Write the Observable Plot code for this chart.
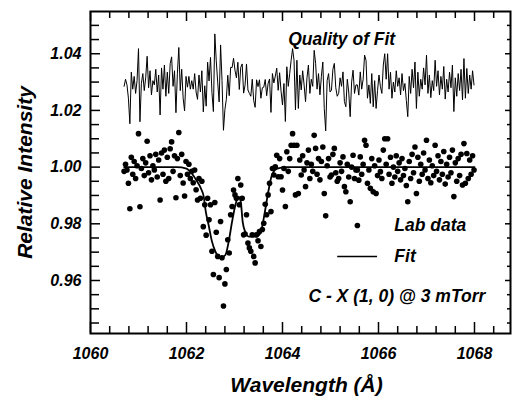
<!DOCTYPE html>
<html><head><meta charset="utf-8">
<script src="https://cdn.jsdelivr.net/npm/d3@7"></script>
<script src="https://cdn.jsdelivr.net/npm/@observablehq/plot@0.6"></script>
<style>body{margin:0;background:#fff}</style>
</head><body><div id="chart"></div>
<script>
const wavelength = [
1060.70,1060.73,1060.76,1060.79,1060.82,1060.85,1060.88,1060.91,1060.94,1060.97,
1061.00,1061.03,1061.06,1061.09,1061.12,1061.15,1061.18,1061.21,1061.24,1061.27,
1061.30,1061.33,1061.36,1061.39,1061.42,1061.45,1061.48,1061.51,1061.54,1061.57,
1061.60,1061.63,1061.66,1061.69,1061.72,1061.75,1061.78,1061.81,1061.84,1061.87,
1061.90,1061.93,1061.96,1061.99,1062.02,1062.05,1062.08,1062.11,1062.14,1062.17,
1062.20,1062.23,1062.26,1062.29,1062.32,1062.35,1062.38,1062.41,1062.44,1062.47,
1062.50,1062.53,1062.56,1062.59,1062.62,1062.65,1062.68,1062.71,1062.74,1062.77,
1062.80,1062.83,1062.86,1062.89,1062.92,1062.95,1062.98,1063.01,1063.04,1063.07,
1063.10,1063.13,1063.16,1063.19,1063.22,1063.25,1063.28,1063.31,1063.34,1063.37,
1063.40,1063.43,1063.46,1063.49,1063.52,1063.55,1063.58,1063.61,1063.64,1063.67,
1063.70,1063.73,1063.76,1063.79,1063.82,1063.85,1063.88,1063.91,1063.94,1063.97,
1064.00,1064.03,1064.06,1064.09,1064.12,1064.15,1064.18,1064.21,1064.24,1064.27,
1064.30,1064.33,1064.36,1064.39,1064.42,1064.45,1064.48,1064.51,1064.54,1064.57,
1064.60,1064.63,1064.66,1064.69,1064.72,1064.75,1064.78,1064.81,1064.84,1064.87,
1064.90,1064.93,1064.96,1064.99,1065.02,1065.05,1065.08,1065.11,1065.14,1065.17,
1065.20,1065.23,1065.26,1065.29,1065.32,1065.35,1065.38,1065.41,1065.44,1065.47,
1065.50,1065.53,1065.56,1065.59,1065.62,1065.65,1065.68,1065.71,1065.74,1065.77,
1065.80,1065.83,1065.86,1065.89,1065.92,1065.95,1065.98,1066.01,1066.04,1066.07,
1066.10,1066.13,1066.16,1066.19,1066.22,1066.25,1066.28,1066.31,1066.34,1066.37,
1066.40,1066.43,1066.46,1066.49,1066.52,1066.55,1066.58,1066.61,1066.64,1066.67,
1066.70,1066.73,1066.76,1066.79,1066.82,1066.85,1066.88,1066.91,1066.94,1066.97,
1067.00,1067.03,1067.06,1067.09,1067.12,1067.15,1067.18,1067.21,1067.24,1067.27,
1067.30,1067.33,1067.36,1067.39,1067.42,1067.45,1067.48,1067.51,1067.54,1067.57,
1067.60,1067.63,1067.66,1067.69,1067.72,1067.75,1067.78,1067.81,1067.84,1067.87,
1067.90,1067.93,1067.96,1067.99];

const intensity = [
0.9985,1.0010,0.9990,0.9943,0.9853,1.0035,0.9975,1.0020,0.9960,1.0005,
1.0118,0.9860,0.9995,1.0030,0.9970,1.0015,1.0091,0.9980,1.0040,0.9955,
1.0005,0.9990,1.0045,0.9965,1.0025,0.9884,1.0050,0.9975,1.0060,0.9950,
1.0035,0.9960,1.0065,1.0089,0.9985,1.0040,0.9892,1.0030,1.0122,0.9970,
1.0045,0.9944,0.9898,1.0020,0.9975,1.0010,0.9960,0.9985,0.9945,0.9990,
0.9920,0.9884,0.9960,0.9890,0.9950,0.9790,0.9867,0.9760,0.9890,0.9814,
0.9867,0.9703,0.9621,0.9875,0.9770,0.9685,0.9610,0.9808,0.9680,0.9510,
0.9588,0.9639,0.9744,0.9697,0.9832,0.9861,0.9919,0.9902,0.9890,0.9960,
0.9867,0.9937,0.9890,0.9761,0.9764,0.9832,0.9732,0.9715,0.9703,0.9761,
0.9685,0.9662,0.9761,0.9740,0.9773,0.9720,0.9780,0.9802,0.9869,0.9832,
0.9902,0.9943,0.9843,0.9995,0.9972,1.0001,1.0042,0.9966,1.0030,0.9966,
0.9919,0.9995,0.9861,1.0054,0.9985,1.0030,1.0077,1.0118,1.0077,0.9902,
1.0077,0.9907,1.0025,0.9972,1.0040,0.9990,0.9931,1.0015,1.0060,0.9960,
1.0010,0.9985,1.0112,1.0066,0.9975,1.0030,0.9955,1.0020,1.0071,0.9907,
0.9828,1.0005,1.0030,0.9965,0.9972,1.0045,1.0066,0.9980,0.9950,0.9960,
1.0015,0.9985,1.0036,0.9931,0.9913,1.0010,0.9965,0.9878,1.0000,1.0042,
0.9960,0.9990,0.9990,0.9954,1.0036,0.9975,1.0010,1.0095,1.0077,0.9943,
0.9990,0.9925,1.0030,0.9913,1.0005,0.9907,0.9970,1.0025,0.9984,0.9960,
1.0060,1.0100,1.0010,1.0100,0.9975,1.0035,0.9943,1.0000,0.9965,1.0040,
0.9985,1.0015,0.9955,1.0030,0.9970,0.9995,0.9935,0.9878,1.0020,0.9960,
1.0045,0.9980,1.0071,0.9907,1.0035,0.9950,1.0010,0.9975,1.0050,0.9990,
1.0095,0.9960,1.0025,0.9945,1.0005,0.9970,1.0077,0.9985,1.0040,0.9955,
1.0020,0.9975,1.0055,0.9940,1.0010,0.9965,1.0035,0.9980,1.0060,0.9896,
1.0015,0.9950,1.0030,0.9970,1.0045,0.9937,1.0083,0.9943,1.0048,0.9960,
1.0025,0.9975,1.0040,0.9990];

const quality = [
1.0285,1.0310,1.0290,1.0243,1.0153,1.0335,1.0275,1.0320,1.0260,1.0305,
1.0418,1.0160,1.0295,1.0330,1.0270,1.0315,1.0391,1.0280,1.0340,1.0255,
1.0305,1.0290,1.0345,1.0265,1.0325,1.0184,1.0350,1.0275,1.0360,1.0250,
1.0335,1.0260,1.0365,1.0389,1.0285,1.0340,1.0192,1.0330,1.0422,1.0270,
1.0345,1.0244,1.0198,1.0320,1.0282,1.0320,1.0275,1.0305,1.0275,1.0330,
1.0265,1.0239,1.0325,1.0265,1.0340,1.0195,1.0287,1.0215,1.0370,1.0304,
1.0387,1.0263,1.0196,1.0470,1.0375,1.0300,1.0230,1.0431,1.0305,1.0130,
1.0203,1.0239,1.0324,1.0252,1.0352,1.0351,1.0384,1.0342,1.0315,1.0370,
1.0274,1.0352,1.0364,1.0261,1.0289,1.0364,1.0272,1.0260,1.0250,1.0310,
1.0235,1.0211,1.0308,1.0284,1.0308,1.0243,1.0280,1.0282,1.0309,1.0252,
1.0295,1.0311,1.0193,1.0330,1.0297,1.0321,1.0349,1.0271,1.0333,1.0268,
1.0219,1.0295,1.0161,1.0354,1.0285,1.0330,1.0377,1.0418,1.0377,1.0202,
1.0377,1.0207,1.0325,1.0272,1.0340,1.0290,1.0231,1.0315,1.0360,1.0260,
1.0310,1.0285,1.0412,1.0366,1.0275,1.0330,1.0255,1.0320,1.0371,1.0207,
1.0128,1.0305,1.0330,1.0265,1.0272,1.0345,1.0366,1.0280,1.0250,1.0260,
1.0315,1.0285,1.0336,1.0231,1.0213,1.0310,1.0265,1.0178,1.0300,1.0342,
1.0260,1.0290,1.0290,1.0254,1.0336,1.0275,1.0310,1.0395,1.0377,1.0243,
1.0290,1.0225,1.0330,1.0213,1.0305,1.0207,1.0270,1.0325,1.0284,1.0260,
1.0360,1.0400,1.0310,1.0400,1.0275,1.0335,1.0243,1.0300,1.0265,1.0340,
1.0285,1.0315,1.0255,1.0330,1.0270,1.0295,1.0235,1.0178,1.0320,1.0260,
1.0345,1.0280,1.0371,1.0207,1.0335,1.0250,1.0310,1.0275,1.0350,1.0290,
1.0395,1.0260,1.0325,1.0245,1.0305,1.0270,1.0377,1.0285,1.0340,1.0255,
1.0320,1.0275,1.0355,1.0240,1.0310,1.0265,1.0335,1.0280,1.0360,1.0196,
1.0315,1.0250,1.0330,1.0270,1.0345,1.0237,1.0383,1.0243,1.0348,1.0260,
1.0325,1.0275,1.0340,1.0290];

const fitWavelength = [1060.70,1061.80,1062.00,1062.10,1062.20,1062.30,1062.36,1062.40,1062.46,1062.53,1062.60,1062.71,1062.81,1062.88,1062.95,1063.02,1063.08,1063.13,1063.17,1063.22,1063.30,1063.44,1063.54,1063.61,1063.68,1063.78,1063.89,1064.10,1068.00];
const fitIntensity = [1.000,1.000,0.9995,0.998,0.9955,0.9925,0.9895,0.9845,0.9796,0.9738,0.9703,0.9680,0.9690,0.9738,0.9808,0.9867,0.9896,0.9878,0.9808,0.9773,0.9755,0.9755,0.9767,0.9820,0.9890,0.9972,0.9995,1.000,1.000];

const xLabelTicks = [1060,1062,1064,1066,1068];
const xMinorTicks = [1060.4,1060.8,1061.2,1061.6,1062.4,1062.8,1063.2,1063.6,1064.4,1064.8,1065.2,1065.6,1066.4,1066.8,1067.2,1067.6,1068.4];
const yLabelTicks = [0.96,0.98,1.00,1.02,1.04];
const yMinorTicks = [0.945,0.950,0.955,0.965,0.970,0.975,0.985,0.990,0.995,1.005,1.010,1.015,1.025,1.030,1.035,1.045,1.050];

const annotations = [
  {text: "Quality of Fit", x: 1064.12, y: 1.0450},
  {text: "Lab data", x: 1066.33, y: 0.9794},
  {text: "Fit", x: 1066.33, y: 0.9684},
  {text: "C - X (1, 0) @ 3 mTorr", x: 1064.54, y: 0.9543}
];
const legendDot = [{x: 1065.56, y: 0.9794}];
const legendLine = [{x1: 1065.15, x2: 1065.98, y: 0.9685}];

const W = 512, H = 400, mL = 90, mR = 2, mT = 11, mB = 67;
const innerW = W - mL - mR, innerH = H - mT - mB;
const font = {fontWeight: "bold", fontStyle: "italic", fill: "#000"};
const pts = wavelength.map((x, i) => ({x, v: intensity[i], q: quality[i]}));
const fit = fitWavelength.map((x, i) => ({x, v: fitIntensity[i]}));

const chart = Plot.plot({
  width: W, height: H,
  marginLeft: mL, marginRight: mR, marginTop: mT, marginBottom: mB,
  x: {domain: [1060, 1068.75], axis: null},
  y: {domain: [0.9413, 1.0549], axis: null},
  style: {fontFamily: '"Liberation Sans", Arial, Helvetica, sans-serif', background: "#fff", color: "#000"},
  marks: [
    Plot.tickX(xMinorTicks, {x: d => d, insetTop: innerH - 7, strokeWidth: 1.5}),
    Plot.tickX(xLabelTicks, {x: d => d, insetTop: innerH - 11, strokeWidth: 1.5}),
    Plot.tickX(xMinorTicks, {x: d => d, insetBottom: innerH - 7, strokeWidth: 1.5}),
    Plot.tickX(xLabelTicks, {x: d => d, insetBottom: innerH - 10, strokeWidth: 1.5}),
    Plot.tickY(yMinorTicks, {y: d => d, insetRight: innerW - 9, strokeWidth: 1.5}),
    Plot.tickY(yLabelTicks, {y: d => d, insetRight: innerW - 10, strokeWidth: 1.5}),
    Plot.tickY(yMinorTicks, {y: d => d, insetLeft: innerW - 3, strokeWidth: 1.5}),
    Plot.tickY(yLabelTicks, {y: d => d, insetLeft: innerW - 5, strokeWidth: 1.5}),
    Plot.text(xLabelTicks, {x: d => d, frameAnchor: "bottom", lineAnchor: "top", dy: 14, text: d => String(d), fontSize: 16, ...font}),
    Plot.text(yLabelTicks, {y: d => d, frameAnchor: "left", textAnchor: "end", lineAnchor: "middle", dx: -9, text: d => d.toFixed(2), fontSize: 16, ...font}),
    Plot.text(["Relative Intensity"], {frameAnchor: "left", textAnchor: "middle", lineAnchor: "middle", dx: -65, rotate: -90, text: d => d, fontSize: 21, ...font}),
    Plot.text(["Wavelength (Å)"], {frameAnchor: "bottom", textAnchor: "middle", lineAnchor: "middle", dx: 6, dy: 52, text: d => d, fontSize: 21, ...font}),
    Plot.line(pts, {x: "x", y: "q", stroke: "#000", strokeWidth: 1}),
    Plot.dot(pts, {x: "x", y: "v", r: 2.8, fill: "#000", stroke: "none"}),
    Plot.line(fit, {x: "x", y: "v", stroke: "#000", strokeWidth: 1.8, curve: "monotone-x"}),
    Plot.text(annotations, {x: "x", y: "y", text: "text", textAnchor: "start", fontSize: 17.5, ...font}),
    Plot.dot(legendDot, {x: "x", y: "y", r: 2.8, fill: "#000", stroke: "none"}),
    Plot.ruleY(legendLine, {y: "y", x1: "x1", x2: "x2", stroke: "#000", strokeWidth: 1.5}),
    Plot.frame({stroke: "#000", strokeWidth: 2})
  ]
});
document.getElementById("chart").appendChild(chart);
</script>
</body></html>
